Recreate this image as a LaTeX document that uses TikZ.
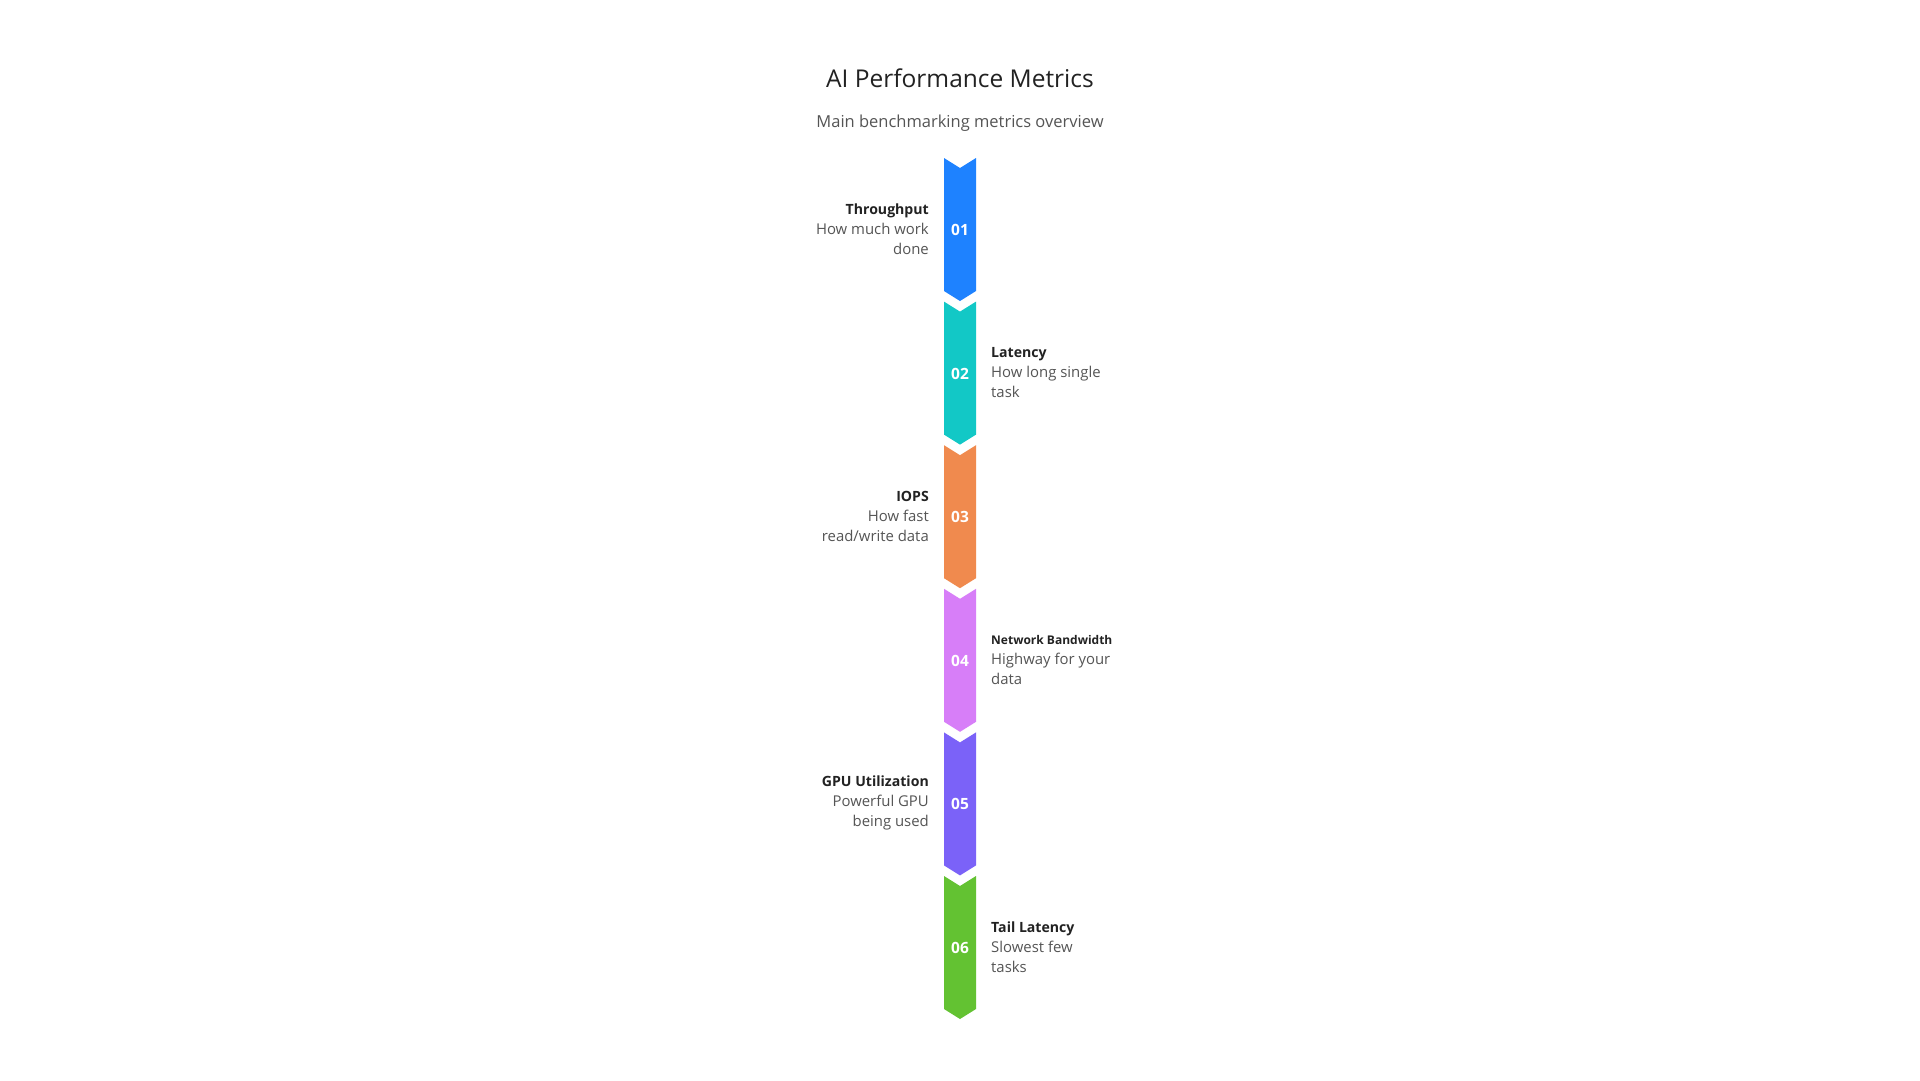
\documentclass[tikz,border=0pt]{standalone}
\usepackage{fontspec}
\setmainfont{Open Sans}
\usetikzlibrary{positioning}
\definecolor{chevA}{HTML}{1E82FF}
\definecolor{chevB}{HTML}{12C8C6}
\definecolor{chevC}{HTML}{F08A4E}
\definecolor{chevD}{HTML}{D77EF8}
\definecolor{chevE}{HTML}{7B62F8}
\definecolor{chevF}{HTML}{63C232}
\definecolor{headtxt}{HTML}{222222}
\definecolor{desctxt}{HTML}{555555}
\tikzset{
  numtxt/.style={text=white, font=\fontsize{15.5}{18}\selectfont\bfseries, inner sep=0pt},
  lefttxt/.style={align=right, inner sep=0pt, yshift=1pt, text=desctxt, font=\fontsize{14.9}{20}\selectfont},
  righttxt/.style={align=left, inner sep=0pt, yshift=1pt, text=desctxt, font=\fontsize{14.9}{20}\selectfont}
}
\newcommand{\metrichead}[1]{{\fontsize{14.1}{20}\selectfont\color{headtxt}\bfseries #1}}

\begin{document}
\begin{tikzpicture}[x=1pt,y=-1pt]
\useasboundingbox[fill=white] (0,0) rectangle (1920,1080);
\node[anchor=base, text=headtxt, font=\fontsize{24.5}{28}\selectfont] (title) at (960,87) {AI Performance Metrics};
\node[anchor=base, text=desctxt, font=\fontsize{16.5}{20}\selectfont] (subtitle) at (960,127) {Main benchmarking metrics overview};
% chevrons with numbers
\foreach \i/\col in {1/chevA,2/chevB,3/chevC,4/chevD,5/chevE,6/chevF} {
  \pgfmathsetmacro{\ytop}{158+(\i-1)*143.6}
  \fill[\col] (944,\ytop) -- ++(16,10) -- ++(16,-10) -- ++(0,133) -- ++(-16,10) -- ++(-16,-10) -- cycle;
  \node[numtxt] (n\i) at (960,\ytop+72) {0\i};
}
% labels
\node[lefttxt, left=31pt of n1.center] (t1) {\metrichead{Throughput}\\How much work\\done};
\node[righttxt, right=31pt of n2.center] (t2) {\metrichead{Latency}\\How long single\\task};
\node[lefttxt, left=31pt of n3.center] (t3) {\metrichead{IOPS}\\How fast\\read/write data};
\node[righttxt, right=31pt of n4.center] (t4) {{\fontsize{12}{20}\selectfont\color{headtxt}\bfseries Network Bandwidth}\\Highway for your\\data};
\node[lefttxt, left=31pt of n5.center] (t5) {\metrichead{GPU Utilization}\\Powerful GPU\\being used};
\node[righttxt, right=31pt of n6.center] (t6) {\metrichead{Tail Latency}\\Slowest few\\tasks};
\end{tikzpicture}
\end{document}
